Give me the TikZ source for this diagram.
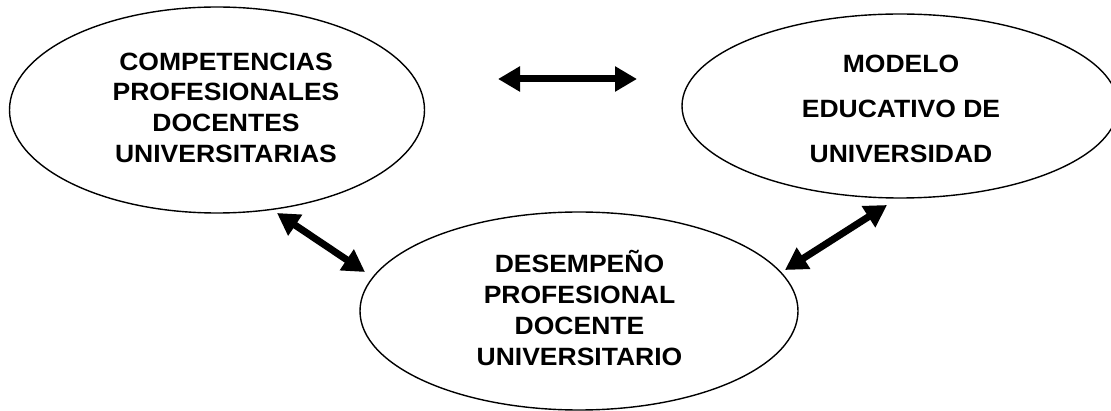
\documentclass[tikz,border=0pt]{standalone}
\usepackage{fontspec}
\setmainfont{Liberation Sans}
\newfontfamily\labfont{Liberation Sans}[FakeStretch=1.06]
\usetikzlibrary{shapes.geometric,arrows.meta}
\begin{document}
\begin{tikzpicture}[x=1pt,y=-1pt,
  oval/.style={draw, ellipse, line width=1.4pt, inner sep=0pt},
  lab/.style={align=center, font=\labfont\bfseries\fontsize{25}{30.7}\selectfont, inner sep=0pt},
  dbl/.style={line width=7pt, {Triangle[length=22pt,width=24pt]}-{Triangle[length=22pt,width=24pt]}}]
\path[use as bounding box, fill=white] (0,0) rectangle (1111,411);
\begin{scope}
\clip (0,0) rectangle (1111,411);
\node[oval, minimum width=415pt, minimum height=206pt] (comp) at (217,110) {};
\node[oval, minimum width=436pt, minimum height=184pt] (mod) at (900,106) {};
\node[oval, minimum width=438pt, minimum height=198pt] (des) at (579,311) {};
\end{scope}
\node[lab] (tcomp) at (226,107.7) {COMPETENCIAS\\PROFESIONALES\\DOCENTES\\UNIVERSITARIAS};
\node[lab, font=\labfont\bfseries\fontsize{25}{45}\selectfont] (tmod) at (901,109) {MODELO\\EDUCATIVO DE\\UNIVERSIDAD};
\node[lab] (tdes) at (579.5,308) {DESEMPEÑO\\PROFESIONAL\\DOCENTE\\UNIVERSITARIO};
\coordinate (h1) at (498,79);
\coordinate (h2) at (637,79);
\coordinate (l1) at (277,213);
\coordinate (l2) at (365,272);
\coordinate (r1) at (785,270);
\coordinate (r2) at (887,205);
\draw[dbl] (h1) -- (h2);
\draw[dbl] (l1) -- (l2);
\draw[dbl] (r1) -- (r2);
\end{tikzpicture}
\end{document}
